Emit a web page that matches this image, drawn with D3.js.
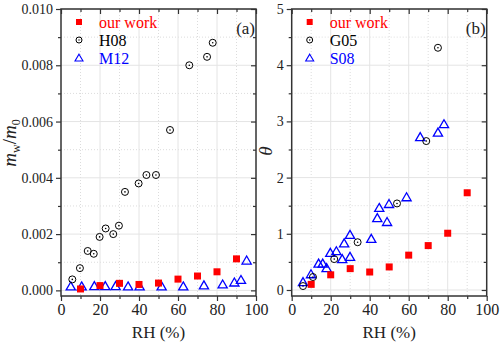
<!DOCTYPE html>
<html>
<head>
<meta charset="utf-8">
<script src="https://cdn.jsdelivr.net/npm/d3@7"></script>
<style>
  svg text, svg tspan { font-family: "Liberation Serif", Tinos, "Nimbus Roman", FreeSerif, serif !important; }
</style>
</head>
<body style="margin:0; background:#fff">
<div id="chart"></div>
<script>
// panel (a): water mass ratio vs RH
const workRH = [10, 20, 30, 40, 50, 60, 70, 80, 90]
const workMass = [0.00005, 0.00017, 0.00025, 0.00021, 0.00026, 0.0004, 0.00051, 0.00066, 0.00112]
const h08RH = [5.8, 9.7, 13.7, 16.8, 19.8, 22.9, 26.8, 29.7, 32.8, 39.8, 43.8, 48.7, 55.9, 65.8, 74.9, 77.8]
const h08Mass = [0.00039, 0.00079, 0.0014, 0.0013, 0.0019, 0.0022, 0.002, 0.0023, 0.0035, 0.0038, 0.0041, 0.0041, 0.0057, 0.008, 0.0083, 0.0088]
const m12RH = [5, 10.6, 17.1, 22.7, 28, 34.4, 40.3, 51.6, 62.7, 73.3, 82.9, 88.9, 92.3, 95.2]
const m12Mass = [0.00014, 0.00014, 0.00015, 0.00015, 0.00015, 0.00014, 0.00014, 0.00014, 0.00014, 0.00018, 0.00021, 0.00028, 0.00037, 0.00106]

// panel (b): theta vs RH
const workTheta = [0.1, 0.27, 0.38, 0.32, 0.41, 0.62, 0.79, 1.01, 1.73]
const g05RH = [5.8, 10.9, 21.8, 33.8, 54, 69, 75]
const g05Theta = [0.07, 0.23, 0.55, 0.85, 1.54, 2.65, 4.31]
const s08RH = [5.8, 9.9, 13.8, 15.9, 17.9, 19.8, 22.9, 25.9, 26.9, 29.9, 29.9, 40.8, 43.9, 44.9, 48.9, 49.9, 58.9, 65.9, 75, 78.1]
const s08Theta = [0.14, 0.28, 0.47, 0.47, 0.39, 0.66, 0.69, 0.55, 0.83, 0.98, 0.59, 0.91, 1.28, 1.46, 1.21, 1.53, 1.65, 2.72, 2.8, 2.95]

const xTicks = [0, 20, 40, 60, 80, 100]
const yTicksA = [0, 0.002, 0.004, 0.006, 0.008, 0.010]
const yTicksB = [0, 1, 2, 3, 4, 5]

const w = 500
const h = 345
const pTop = 9, pBottom = 296
const serif = '"Liberation Serif"'

const svg = d3.select("#chart")
  .append("svg")
  .attr("width", w)
  .attr("height", h)
  .style("font-family", serif)

const zip = (xs, ys) => xs.map((x, i) => [x, ys[i]])

const addText = (sel, x, y, size, txt) => sel.append("text")
  .attr("x", x).attr("y", y)
  .style("font-family", serif)
  .style("font-size", size + "px")
  .text(txt)

function drawPanel(opt) {
  const x = d3.scaleLinear().domain([0, 100]).range([opt.left, opt.right])
  const y = d3.scaleLinear().domain(opt.yDomain).range([pBottom, pTop])
  const g = svg.append("g")

  const xMinor = d3.range(10, 100, 20)
  const yMinor = opt.yTicks.slice(0, -1).map((d, i) => (d + opt.yTicks[i + 1]) / 2)

  // minor grid (dotted)
  g.selectAll(".gxm").data(xMinor).enter().append("line")
    .attr("x1", d => x(d)).attr("x2", d => x(d))
    .attr("y1", pTop).attr("y2", pBottom)
    .attr("stroke", "#dcdcdc").attr("stroke-dasharray", "1,2")
  g.selectAll(".gym").data(yMinor).enter().append("line")
    .attr("x1", opt.left).attr("x2", opt.right)
    .attr("y1", d => y(d)).attr("y2", d => y(d))
    .attr("stroke", "#dcdcdc").attr("stroke-dasharray", "1,2")
  // major grid
  g.selectAll(".gx").data(xTicks.slice(1, -1)).enter().append("line")
    .attr("x1", d => x(d)).attr("x2", d => x(d))
    .attr("y1", pTop).attr("y2", pBottom)
    .attr("stroke", "#e4e4e4")
  g.selectAll(".gy").data(opt.yTicks).enter().append("line")
    .attr("x1", opt.left).attr("x2", opt.right)
    .attr("y1", d => y(d)).attr("y2", d => y(d))
    .attr("stroke", "#e4e4e4")

  const axisStyle = sel => {
    sel.attr("font-family", null).style("font-family", serif)
    sel.select(".domain").remove()
    sel.selectAll("line").attr("stroke", "#333").attr("stroke-width", 1.2)
    sel.selectAll("text").attr("font-size", null)
      .style("font-family", serif).style("font-size", "14px").attr("fill", "#222")
  }
  // major ticks + labels
  g.append("g").attr("transform", `translate(0,${pBottom})`)
    .call(d3.axisBottom(x).tickValues(xTicks).tickSize(5).tickPadding(3))
    .call(axisStyle)
    .selectAll("text").style("font-size", "16px")
  g.append("g").attr("transform", `translate(${opt.left},0)`)
    .call(d3.axisLeft(y).tickValues(opt.yTicks).tickFormat(opt.fmt).tickSize(5).tickPadding(3))
    .call(axisStyle)
  g.append("g").attr("transform", `translate(0,${pTop})`)
    .call(d3.axisBottom(x).tickValues(xTicks).tickFormat("").tickSize(5))
    .call(axisStyle)
  g.append("g").attr("transform", `translate(${opt.right},0)`)
    .call(d3.axisLeft(y).tickValues(opt.yTicks).tickFormat("").tickSize(5))
    .call(axisStyle)
  // minor ticks
  g.append("g").attr("transform", `translate(0,${pBottom})`)
    .call(d3.axisBottom(x).tickValues(xMinor).tickFormat("").tickSize(3)).call(axisStyle)
  g.append("g").attr("transform", `translate(${opt.left},0)`)
    .call(d3.axisLeft(y).tickValues(yMinor).tickFormat("").tickSize(3)).call(axisStyle)
  g.append("g").attr("transform", `translate(0,${pTop})`)
    .call(d3.axisBottom(x).tickValues(xMinor).tickFormat("").tickSize(3)).call(axisStyle)
  g.append("g").attr("transform", `translate(${opt.right},0)`)
    .call(d3.axisLeft(y).tickValues(yMinor).tickFormat("").tickSize(3)).call(axisStyle)

  // frame
  g.append("rect")
    .attr("x", opt.left).attr("y", pTop)
    .attr("width", opt.right - opt.left).attr("height", pBottom - pTop)
    .attr("fill", "none").attr("stroke", "#333").attr("stroke-width", 1.5)

  // series
  g.selectAll(".tri").data(opt.tri).enter().append("path")
    .attr("d", "M0,-4.5L4.6,3.5L-4.6,3.5Z")
    .attr("transform", d => `translate(${x(d[0])},${y(d[1])})`)
    .attr("fill", "none").attr("stroke", "#0000ff").attr("stroke-width", 1.3)
  g.selectAll(".circ").data(opt.circ).enter().append("circle")
    .attr("cx", d => x(d[0])).attr("cy", d => y(d[1])).attr("r", 3.5)
    .attr("fill", "none").attr("stroke", "#000").attr("stroke-width", 1)
  g.selectAll(".dot").data(opt.circ).enter().append("circle")
    .attr("cx", d => x(d[0])).attr("cy", d => y(d[1])).attr("r", 0.8)
    .attr("fill", "#000")
  g.selectAll(".sq").data(opt.sq).enter().append("rect")
    .attr("x", d => x(d[0]) - 3.5).attr("y", d => y(d[1]) - 3.5)
    .attr("width", 7).attr("height", 7).attr("fill", "#ff0000")

  // legend
  const lx = opt.left + 18, tx = opt.left + 38
  const rows = [22, 40, 58]
  g.append("rect").attr("x", lx - 3).attr("y", rows[0] - 3).attr("width", 6).attr("height", 6).attr("fill", "#ff0000")
  g.append("circle").attr("cx", lx).attr("cy", rows[1]).attr("r", 3).attr("fill", "none").attr("stroke", "#000")
  g.append("circle").attr("cx", lx).attr("cy", rows[1]).attr("r", 0.7).attr("fill", "#000")
  g.append("path").attr("d", "M0,-3.8L4,3L-4,3Z").attr("transform", `translate(${lx},${rows[2]})`)
    .attr("fill", "none").attr("stroke", "#0000ff").attr("stroke-width", 1.1)
  const names = ["our work", opt.names[0], opt.names[1]]
  const cols = ["#ff0000", "#000", "#0000ff"]
  names.forEach((n, i) => {
    addText(g, tx, rows[i] + 5.5, 16, n).attr("fill", cols[i])
  })
  addText(g, opt.right - 1, 34, 17, opt.tag)
    .attr("text-anchor", "end").attr("fill", "#222")

  // axis titles
  addText(g, (opt.left + opt.right) / 2, 338, 17, "RH (%)")
    .attr("text-anchor", "middle").attr("fill", "#222")
  return g
}

drawPanel({
  left: 61, right: 256, yDomain: [-0.0002, 0.010], yTicks: yTicksA,
  fmt: d3.format(".3f"),
  sq: zip(workRH, workMass), circ: zip(h08RH, h08Mass), tri: zip(m12RH, m12Mass),
  names: ["H08", "M12"], tag: "(a)"
})
drawPanel({
  left: 291.7, right: 486.7, yDomain: [-0.107, 5], yTicks: yTicksB,
  fmt: d3.format("d"),
  sq: zip(workRH, workTheta), circ: zip(g05RH, g05Theta), tri: zip(s08RH, s08Theta),
  names: ["G05", "S08"], tag: "(b)"
})

// y titles
const ta = svg.append("text")
  .attr("transform", "translate(16,143) rotate(-90)")
  .attr("text-anchor", "middle").attr("fill", "#222")
  .style("font-family", serif).style("font-size", "19px")
ta.append("tspan").style("font-style", "italic").text("m")
ta.append("tspan").style("font-size", "12px").attr("dy", 4).text("w")
ta.append("tspan").attr("dy", -4).text("/")
ta.append("tspan").style("font-style", "italic").text("m")
ta.append("tspan").style("font-size", "12px").attr("dy", 4).text("0")

svg.append("text")
  .attr("transform", "translate(272,151) rotate(-90)")
  .attr("text-anchor", "middle").attr("fill", "#222")
  .style("font-family", serif).style("font-size", "19px").style("font-style", "italic")
  .text("θ")
</script>
</body>
</html>
